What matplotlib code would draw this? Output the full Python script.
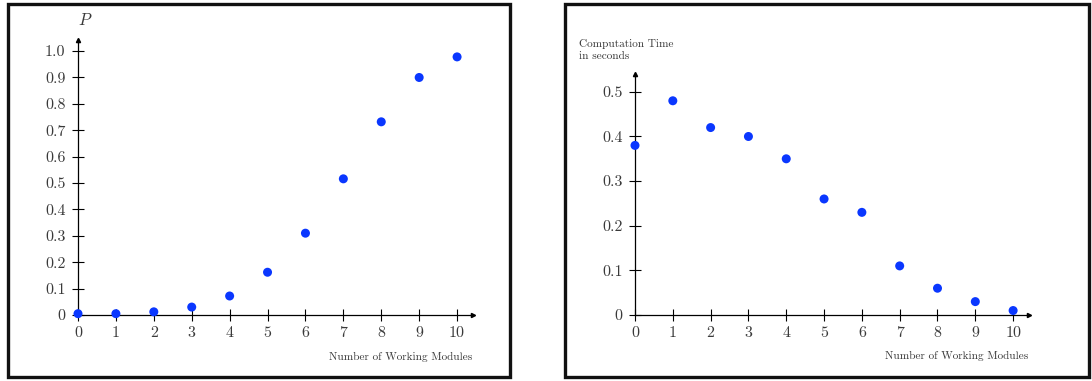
import numpy as np
import matplotlib.pyplot as plt
from matplotlib.patches import Rectangle

# data
modules = [0, 1, 2, 3, 4, 5, 6, 7, 8, 9, 10]
prob = [0.005, 0.005, 0.012, 0.03, 0.072, 0.162, 0.31, 0.516, 0.732, 0.90, 0.978]
comp_time = [0.38, 0.48, 0.42, 0.40, 0.35, 0.26, 0.23, 0.11, 0.06, 0.03, 0.01]

prob_ticks = [0, 0.1, 0.2, 0.3, 0.4, 0.5, 0.6, 0.7, 0.8, 0.9, 1.0]
prob_ticklabels = ['0', '0.1', '0.2', '0.3', '0.4', '0.5', '0.6', '0.7', '0.8', '0.9', '1.0']
time_ticks = [0, 0.1, 0.2, 0.3, 0.4, 0.5]
time_ticklabels = ['0', '0.1', '0.2', '0.3', '0.4', '0.5']

plt.rcParams['font.family'] = 'serif'
plt.rcParams['font.serif'] = ['cmr10', 'DejaVu Serif']
plt.rcParams['mathtext.fontset'] = 'cm'
plt.rcParams['axes.unicode_minus'] = False

W, H = 1092, 381
fig = plt.figure(figsize=(W / 100, H / 100), dpi=100)

dot_color = '#0a37ff'
txt_color = '#3a3a3a'


def px_rect(x0, y0, x1, y1):
    # convert pixel box (top-left origin) to figure fraction
    return [x0 / W, 1 - y1 / H, (x1 - x0) / W, (y1 - y0) / H]


def style_axes(ax, xmax, ymax, yticks, yticklabels):
    ax.set_xlim(0, xmax)
    ax.set_ylim(0, ymax)
    for s in ['top', 'right']:
        ax.spines[s].set_visible(False)
    for s in ['left', 'bottom']:
        ax.spines[s].set_linewidth(0.9)
    ax.set_xticks(modules)
    ax.set_xticklabels([str(m) for m in modules])
    ax.set_yticks(yticks)
    ax.set_yticklabels(yticklabels)
    ax.tick_params(direction='inout', length=8, width=0.8, labelsize=11.5,
                   labelcolor=txt_color)
    ax.tick_params(axis='y', pad=5)
    ax.tick_params(axis='x', pad=4)
    ax.patch.set_alpha(0)
    # arrow heads at the end of the axes
    ax.plot(1, 0, '>k', ms=3, transform=ax.transAxes, clip_on=False)
    ax.plot(0, 1, '^k', ms=3, transform=ax.transAxes, clip_on=False)


# left panel
ax1 = fig.add_axes(px_rect(78, 40, 473, 315))
ax1.scatter(modules, prob, s=42, color=dot_color, zorder=3, clip_on=False,
            edgecolors='none')
style_axes(ax1, 10.42, 1.042, prob_ticks, prob_ticklabels)
fig.text(85 / W, 1 - 20 / H, '$P$', fontsize=12, color=txt_color,
         ha='center', va='center')
fig.text(472 / W, 1 - 357 / H, 'Number of Working Modules', fontsize=8.1,
         color=txt_color, ha='right', va='center')

# right panel
ax2 = fig.add_axes(px_rect(635, 74, 1029, 315))
ax2.scatter(modules, comp_time, s=42, color=dot_color, zorder=3, clip_on=False,
            edgecolors='none')
style_axes(ax2, 10.42, 0.54, time_ticks, time_ticklabels)
fig.text(579 / W, 1 - 50 / H, 'Computation Time\nin seconds', fontsize=8.1,
         color=txt_color, ha='left', va='center', linespacing=1.3)
fig.text(1028 / W, 1 - 356 / H, 'Number of Working Modules', fontsize=8.1,
         color=txt_color, ha='right', va='center')

# panel frames
for x0, x1 in [(8, 510), (565, 1089)]:
    fig.patches.append(Rectangle((x0 / W, 4 / H), (x1 - x0) / W, (377 - 4) / H,
                                 transform=fig.transFigure, fill=False,
                                 lw=2.4, ec='#111111'))

fig.savefig('out.png', dpi=100)
